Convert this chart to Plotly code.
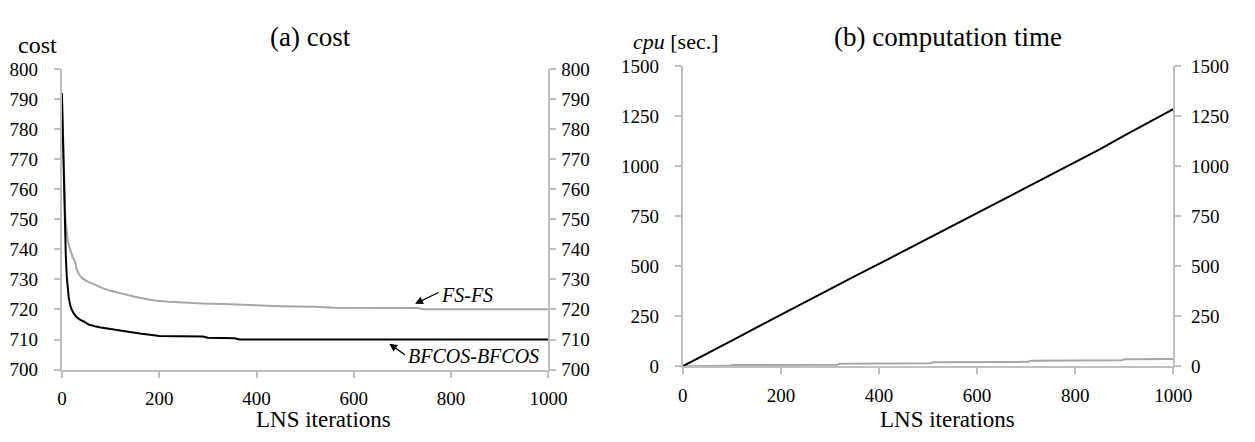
import plotly.graph_objects as go

W, H = 1255, 442

# ---- data: (a) cost ----
iter_bfcos = [0, 1, 2, 3, 4, 5, 6, 7, 8, 10, 12, 14, 17, 20, 25, 30, 38, 45, 55, 62, 70, 80, 95,
              110, 125, 140, 160, 185, 200, 240, 290, 300, 355, 365, 1000]
cost_bfcos = [792, 784, 776, 768, 760, 753, 747, 742, 738, 731, 727, 724, 721.5, 720, 718.5, 717.5,
              716.5, 716, 715, 714.6, 714.3, 714, 713.6, 713.3, 713, 712.5, 712, 711.5, 711.2, 711.1,
              711, 710.6, 710.4, 710, 710]
iter_fs = [0, 1, 2, 3, 4, 5, 6, 7, 8, 10, 12, 14, 16, 18, 22, 27, 30, 35, 41, 50, 60, 70, 85, 100,
           118, 135, 150, 170, 190, 220, 250, 290, 330, 400, 450, 520, 560, 730, 745, 1000]
cost_fs = [792, 785, 778, 771, 765, 760, 756, 752, 749, 745.5, 743, 741.5, 740.5, 739.5, 737.5, 736,
           733.5, 731.8, 730.5, 729.5, 728.8, 728, 727, 726.2, 725.4, 724.8, 724.2, 723.6, 723, 722.6,
           722.3, 722, 721.8, 721.3, 721.1, 720.9, 720.6, 720.5, 720.1, 720.1]

# ---- data: (b) computation time ----
iter_cpu_bfcos = [0, 50, 100, 150, 200, 250, 300, 350, 400, 450, 500, 550, 600, 650, 700, 750, 800,
                  850, 900, 950, 1000]
cpu_bfcos = [0, 62, 128, 193, 258, 322, 386, 450, 512, 576, 638, 702, 766, 830, 895, 957, 1020, 1085,
             1154, 1220, 1287]
iter_cpu_fs = [0, 95, 100, 315, 320, 505, 510, 705, 710, 895, 900, 1000]
cpu_fs = [0, 2, 6, 8, 13, 15, 20, 22, 28, 30, 35, 36]

cost_ticks = [700, 710, 720, 730, 740, 750, 760, 770, 780, 790, 800]
cpu_ticks = [0, 250, 500, 750, 1000, 1250, 1500]
iter_ticks = [0, 200, 400, 600, 800, 1000]

FONT = "Liberation Serif"
AX = "#bfbfbf"
GRAY = "#a6a6a6"
BLACK = "#000000"


def px_x(p):
    return p / W


def px_y(p):
    return 1 - p / H


fig = go.Figure()

fig.add_trace(go.Scatter(x=iter_fs, y=cost_fs, mode="lines", line=dict(color=GRAY, width=2),
                         xaxis="x", yaxis="y", showlegend=False))
fig.add_trace(go.Scatter(x=iter_bfcos, y=cost_bfcos, mode="lines", line=dict(color=BLACK, width=2),
                         xaxis="x", yaxis="y", showlegend=False))
fig.add_trace(go.Scatter(x=[None], y=[None], xaxis="x", yaxis="y2", showlegend=False,
                         hoverinfo="skip"))

fig.add_trace(go.Scatter(x=iter_cpu_fs, y=cpu_fs, mode="lines", line=dict(color=GRAY, width=2),
                         xaxis="x2", yaxis="y3", showlegend=False))
fig.add_trace(go.Scatter(x=iter_cpu_bfcos, y=cpu_bfcos, mode="lines", line=dict(color=BLACK, width=2),
                         xaxis="x2", yaxis="y3", showlegend=False))
fig.add_trace(go.Scatter(x=[None], y=[None], xaxis="x2", yaxis="y4", showlegend=False,
                         hoverinfo="skip"))

tickfont = dict(family=FONT, size=19, color="#000")

common_axis = dict(showgrid=False, zeroline=False, showline=True, linecolor=AX, linewidth=2,
                   ticks="outside", ticklen=6, tickwidth=1.5, tickcolor=AX, tickfont=tickfont)

dom_a_x = [px_x(58), px_x(554)]
dom_a_y = [px_y(377.5), px_y(62)]
dom_b_x = [px_x(691), px_x(1191)]
dom_b_y = [px_y(374), px_y(59.3)]

fig.update_layout(
    width=W, height=H,
    margin=dict(l=0, r=0, t=0, b=0),
    paper_bgcolor="white", plot_bgcolor="white",
    xaxis=dict(domain=dom_a_x, anchor="y", range=[0, 1000], tickvals=iter_ticks,
               ticklabelstandoff=5, **common_axis),
    yaxis=dict(domain=dom_a_y, anchor="x", range=[700, 800], tickvals=cost_ticks,
               ticklabelstandoff=12, **common_axis),
    yaxis2=dict(overlaying="y", anchor="x", side="right", range=[700, 800], tickvals=cost_ticks,
                ticklabelstandoff=1, **common_axis),
    xaxis2=dict(domain=dom_b_x, anchor="y3", range=[0, 1000], tickvals=iter_ticks,
                ticklabelstandoff=5, **common_axis),
    yaxis3=dict(domain=dom_b_y, anchor="x2", range=[0, 1500], tickvals=cpu_ticks,
                ticklabelstandoff=12, **common_axis),
    yaxis4=dict(overlaying="y3", anchor="x2", side="right", range=[0, 1500], tickvals=cpu_ticks,
                ticklabelstandoff=6, **common_axis),
)

ann = []
# titles
ann.append(dict(text="(a) cost", x=px_x(311), y=px_y(28), xref="paper", yref="paper",
                showarrow=False, font=dict(family=FONT, size=27, color="#000"),
                xanchor="center", yanchor="middle"))
ann.append(dict(text="(b) computation time", x=px_x(961), y=px_y(28), xref="paper", yref="paper",
                showarrow=False, font=dict(family=FONT, size=27, color="#000"),
                xanchor="center", yanchor="middle"))
# y axis titles
ann.append(dict(text="cost", x=px_x(33), y=px_y(37), xref="paper", yref="paper",
                showarrow=False, font=dict(family=FONT, size=24, color="#000"),
                xanchor="center", yanchor="middle"))
ann.append(dict(text="<i>cpu</i> [sec.]", x=px_x(684), y=px_y(33), xref="paper", yref="paper",
                showarrow=False, font=dict(family=FONT, size=22, color="#000"),
                xanchor="center", yanchor="middle"))
# x axis titles
ann.append(dict(text="LNS iterations", x=px_x(325), y=px_y(430), xref="paper", yref="paper",
                showarrow=False, font=dict(family=FONT, size=23, color="#000"),
                xanchor="center", yanchor="middle"))
ann.append(dict(text="LNS iterations", x=px_x(961), y=px_y(430), xref="paper", yref="paper",
                showarrow=False, font=dict(family=FONT, size=23, color="#000"),
                xanchor="center", yanchor="middle"))
# series labels
ann.append(dict(text="<i>FS-FS</i>", x=833, y=724.8, xref="x", yref="y", showarrow=False,
                font=dict(family=FONT, size=20, color="#000"), xanchor="center", yanchor="middle"))
ann.append(dict(text="<i>BFCOS-BFCOS</i>", x=847, y=704.6, xref="x", yref="y", showarrow=False,
                font=dict(family=FONT, size=20, color="#000"), xanchor="center", yanchor="middle"))
# arrows
ann.append(dict(text="", x=726, y=721.9, xref="x", yref="y", ax=25, ay=-12, showarrow=True,
                arrowhead=2, arrowsize=1.2, arrowwidth=1.3, arrowcolor="#000"))
ann.append(dict(text="", x=673, y=708.6, xref="x", yref="y", ax=17, ay=12, showarrow=True,
                arrowhead=2, arrowsize=1.2, arrowwidth=1.3, arrowcolor="#000"))

fig.update_layout(annotations=ann)

fig.write_html("out.html", config={"displayModeBar": False},
               post_script="document.body.style.margin='0px';")
